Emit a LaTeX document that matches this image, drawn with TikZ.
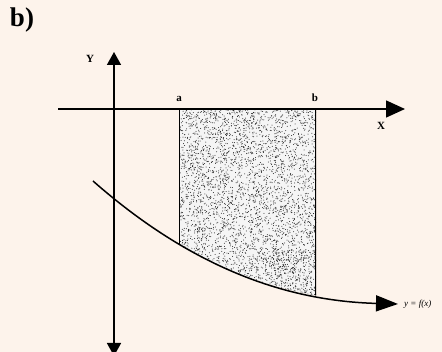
\documentclass[tikz,border=0pt]{standalone}
\usepackage{fontspec}
\setmainfont{Liberation Serif}
\usetikzlibrary{arrows.meta}
\definecolor{paper}{RGB}{253,243,235}
\begin{document}
\begin{tikzpicture}[x=1pt,y=-1pt,
  axis/.style={line width=1.5pt,black},
  lbl/.style={font=\bfseries\fontsize{11}{12}\selectfont,inner sep=0pt},
]
\useasboundingbox (0,0) rectangle (442,352);
\fill[paper] (0,0) rectangle (442,352);
\def\curvepath{(93,181) .. controls (193,269) and (288,301) .. (398,304)}
% shaded area
\begin{scope}
  \clip (179,109) rectangle (316,400);
  \clip \curvepath -- (450,0) -- (0,0) -- cycle;
  \fill[black!4] (179,109) rectangle (316,400);
  \pgfmathsetseed{7}
  \foreach \i in {1,...,4200}{
    \fill[black!85] ({179+137*rnd},{109+195*rnd}) circle (0.5);
  }
  \foreach \i in {1,...,250}{
    \fill[black!85] ({255+61*rnd},{250+52*rnd}) circle (0.5);
  }
  \draw[line width=1.4pt] (179,109) -- (179,400);
  \draw[line width=1.4pt] (316,109) -- (316,400);
\end{scope}
% axes
\coordinate (xs) at (58,109);
\coordinate (xe) at (405,109);
\coordinate (yt) at (114,52);
\coordinate (yb) at (114,356);
\draw[axis,-{Triangle[length=19pt,width=17pt]}] (xs) -- (xe);
\draw[axis,-{Triangle[length=13pt,width=14pt]}] (114,109) -- (yt);
\draw[axis,-{Triangle[length=13pt,width=14pt]}] (114,109) -- (yb);
% curve
\draw[line width=1.5pt,-{Triangle[length=22pt,width=16pt]}] \curvepath;
% labels
\node[font=\bfseries\fontsize{27}{29}\selectfont,inner sep=0pt] (lb) at (22,20) {b)};
\node[lbl] (ly) at (90,59) {Y};
\node[lbl] (lx) at (381,126) {X};
\node[lbl] (la) at (179,99) {a};
\node[lbl] (lbb) at (315,98) {b};
\node[font=\itshape\fontsize{9}{10}\selectfont,inner sep=0pt,anchor=west] (lf) at (404,304) {y = f(x)};
\end{tikzpicture}
\end{document}
